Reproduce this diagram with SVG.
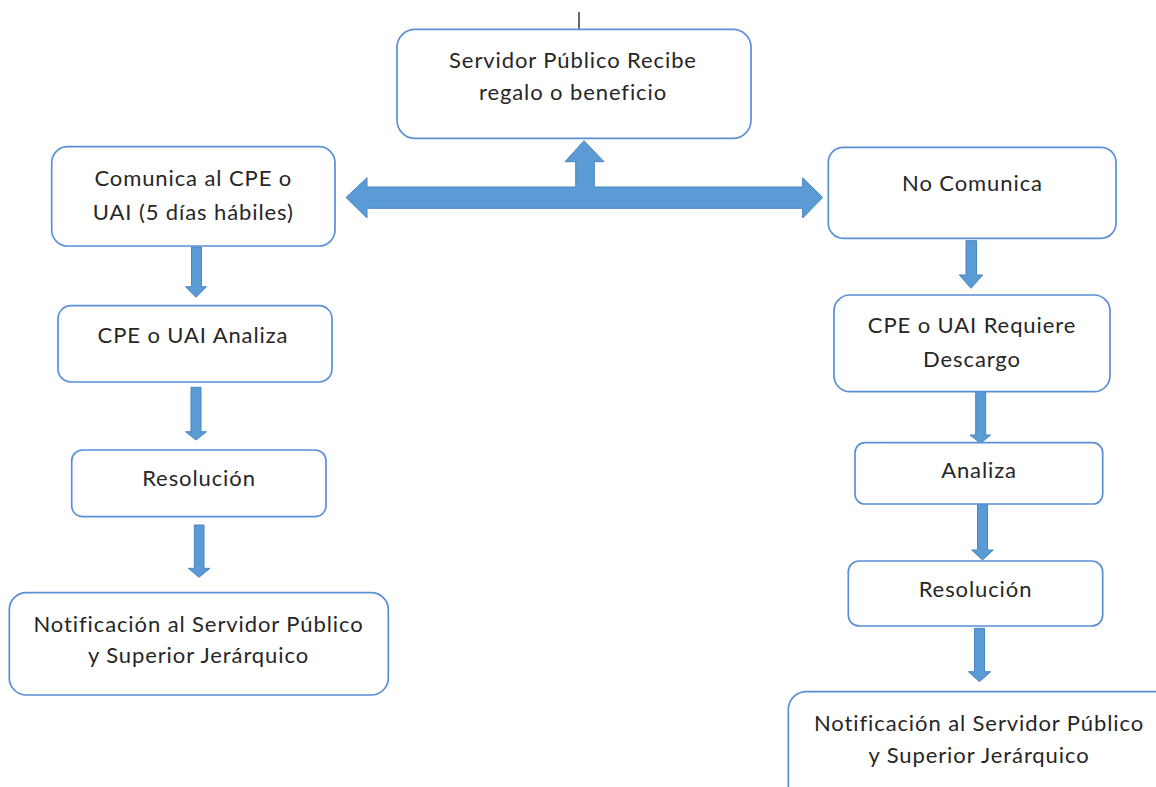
<svg xmlns="http://www.w3.org/2000/svg" width="1156" height="787" viewBox="0 0 1156 787">
<style>
.box{fill:#ffffff;stroke:#5b8fd6;stroke-width:1.7}
.arr{fill:#5b9bd5;stroke:#4a86c0;stroke-width:1}
text{font-family:Lato,"Open Sans","Liberation Sans",sans-serif;font-size:22px;letter-spacing:0.9px;fill:#262626;text-anchor:middle;dominant-baseline:central}
</style>
<rect width="1156" height="787" fill="#ffffff"/>
<g id="connectors">
<line x1="579" y1="12" x2="579" y2="42" stroke="#000000" stroke-width="1.2"/>
<polygon class="arr" points="346,197.5 367,177.7 367,187 575.7,187 575.7,161.7 565,161.7 584,140.7 604,161.7 594.3,161.7 594.3,187 802.7,187 802.7,177.7 822.7,197.5 802.7,218 802.7,208.3 367,208.3 367,218"/>
<polygon class="arr" points="191.5,247 201.5,247 201.5,286.7 206.5,286.7 196,297.3 185.5,286.7 191.5,286.7"/>
<polygon class="arr" points="191,387.3 201,387.3 201,431.7 206.5,431.7 196,440 185.5,431.7 191,431.7"/>
<polygon class="arr" points="194.3,525 204,525 204,568.3 210,568.3 199,577.3 188.3,568.3 194.3,568.3"/>
<polygon class="arr" points="966,240.7 976.5,240.7 976.5,275 982.7,275 971,288.3 959.3,275 966,275"/>
<polygon class="arr" points="975.7,391.7 985.7,391.7 985.7,435 990.7,435 980.5,443.3 970,435 975.7,435"/>
<polygon class="arr" points="977.5,504 987.5,504 987.5,550 993.3,550 982.5,560 971.7,550 977.5,550"/>
<polygon class="arr" points="974.5,628.3 984.5,628.3 984.5,671.7 990.7,671.7 979.5,681.7 968.3,671.7 974.5,671.7"/>
</g>
<g id="n-recibe">
<rect class="box" x="397" y="29.3" width="354" height="109" rx="18"/>
<text x="573" y="59.5">Servidor Público Recibe</text>
<text x="573" y="91.5">regalo o beneficio</text>
</g>
<g id="n-comunica">
<rect class="box" x="51.7" y="146.7" width="283.3" height="99.3" rx="16"/>
<text x="193.3" y="177.5">Comunica al CPE o</text>
<text x="193.3" y="211">UAI (5 días hábiles)</text>
</g>
<g id="n-analiza-left">
<rect class="box" x="58" y="305.7" width="274" height="76.3" rx="13"/>
<text x="193" y="334.5">CPE o UAI Analiza</text>
</g>
<g id="n-resolucion-left">
<rect class="box" x="71.7" y="450" width="254.3" height="66.7" rx="11"/>
<text x="199" y="477">Resolución</text>
</g>
<g id="n-notif-left">
<rect class="box" x="9.3" y="592.7" width="379" height="102.3" rx="17"/>
<text x="198.5" y="623">Notificación al Servidor Público</text>
<text x="198.5" y="654.5">y Superior Jerárquico</text>
</g>
<g id="n-nocomunica">
<rect class="box" x="828.3" y="147.3" width="287.7" height="91" rx="15"/>
<text x="972.5" y="182.5">No Comunica</text>
</g>
<g id="n-requiere">
<rect class="box" x="834" y="295" width="276" height="96.7" rx="16"/>
<text x="972" y="324.5">CPE o UAI Requiere</text>
<text x="972" y="358">Descargo</text>
</g>
<g id="n-analiza-right">
<rect class="box" x="855" y="442.7" width="247.7" height="61.3" rx="10"/>
<text x="979" y="469.5">Analiza</text>
</g>
<g id="n-resolucion-right">
<rect class="box" x="848.3" y="561" width="254.4" height="65" rx="11"/>
<text x="975.5" y="588">Resolución</text>
</g>
<g id="n-notif-right">
<rect class="box" x="788.3" y="691.7" width="385" height="120" rx="18"/>
<text x="979" y="722.5">Notificación al Servidor Público</text>
<text x="979" y="754">y Superior Jerárquico</text>
</g>
</svg>
